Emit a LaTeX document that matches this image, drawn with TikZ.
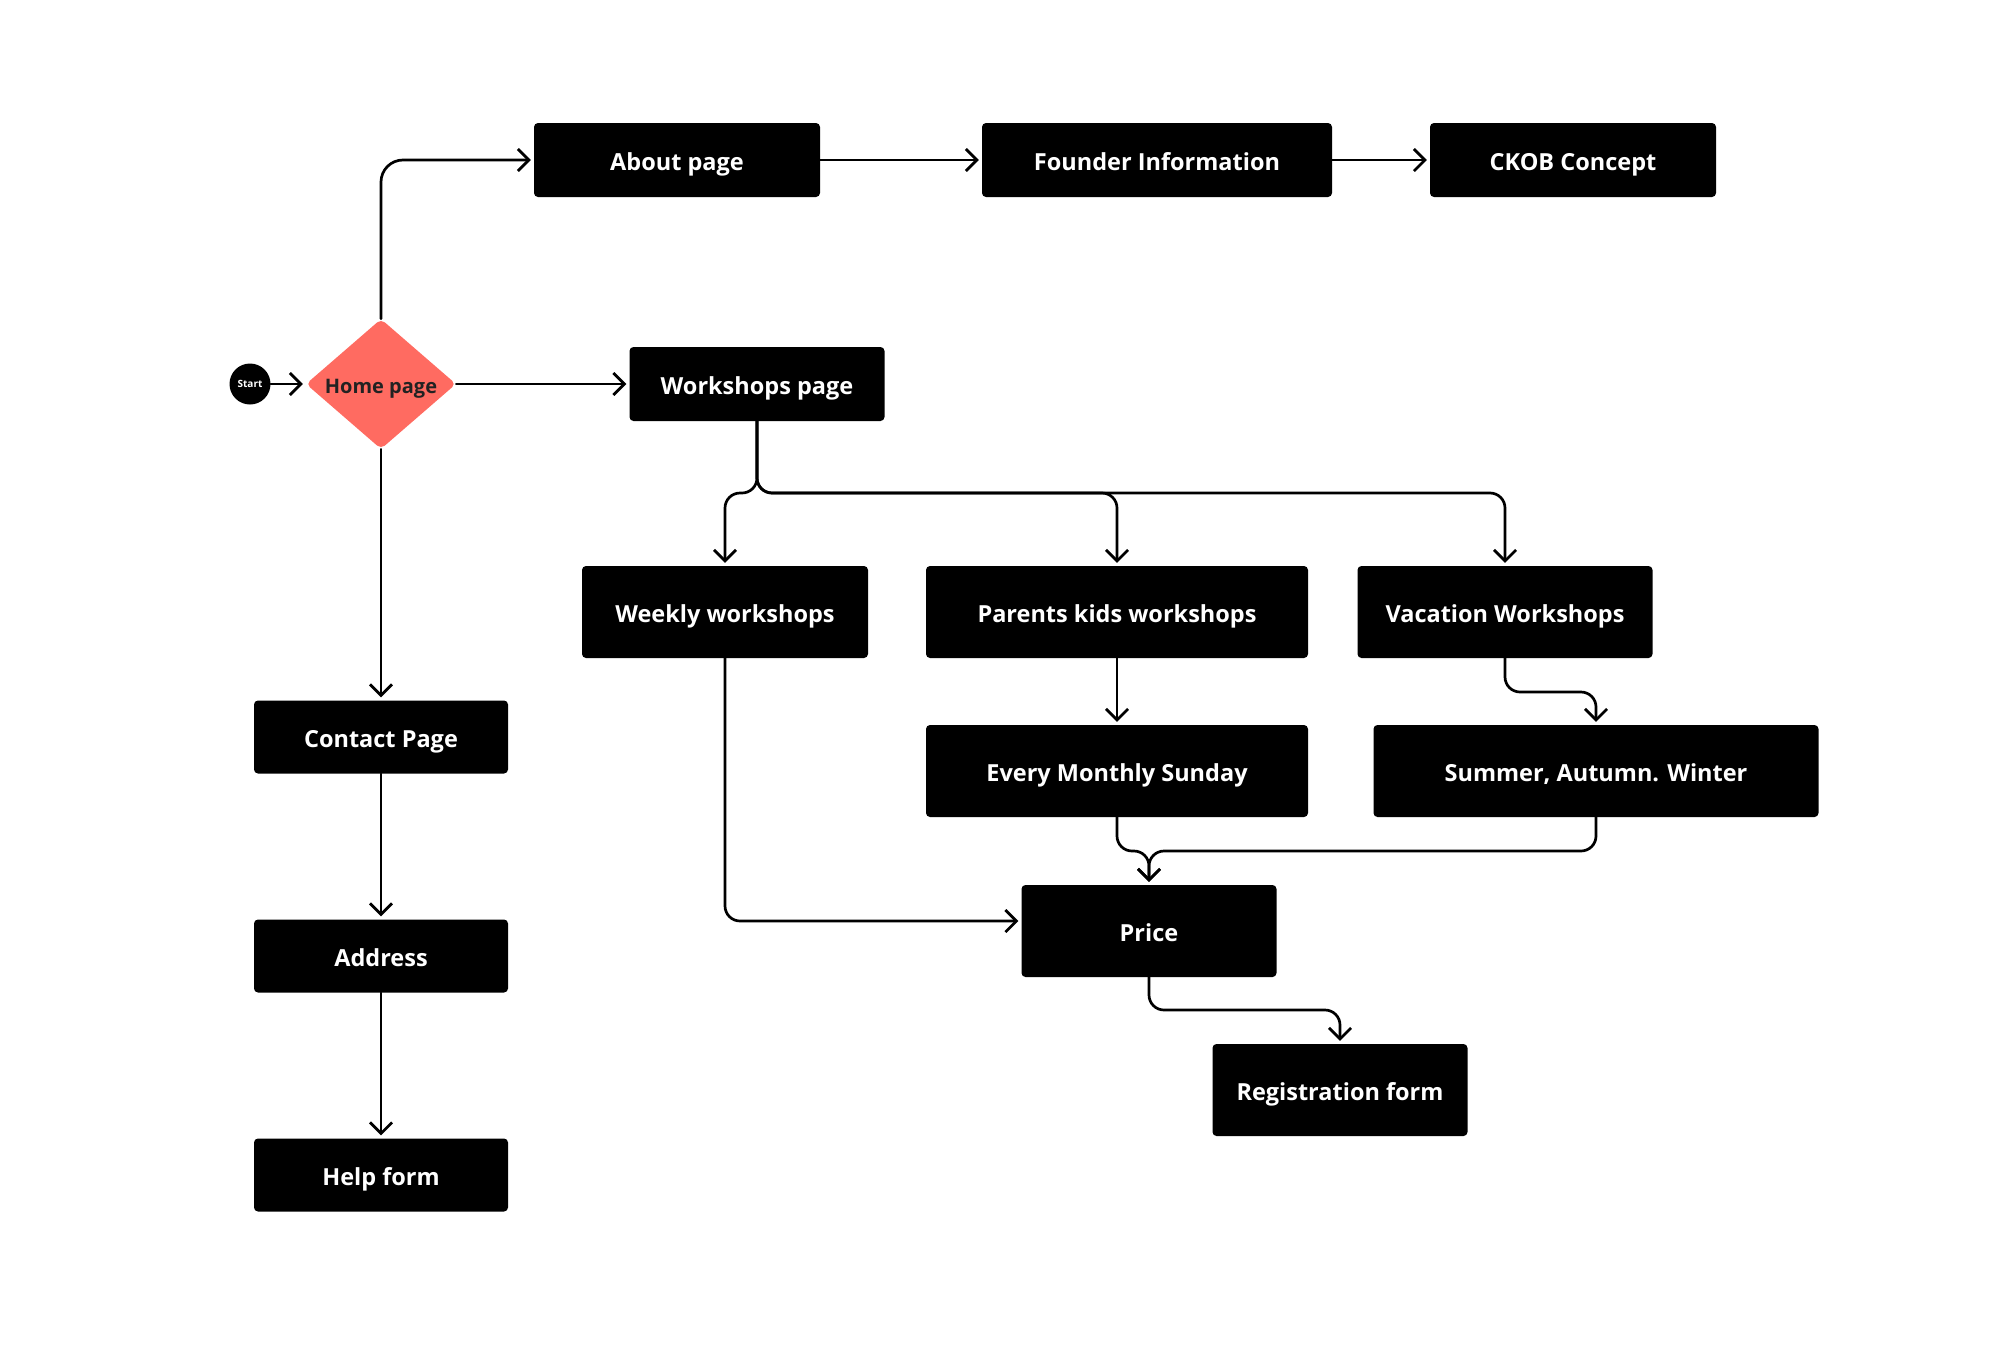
\documentclass[tikz,border=0pt]{standalone}
\usepackage{fontspec}
\setmainfont{Open Sans}
\usetikzlibrary{arrows.meta,shapes.geometric}
\definecolor{coral}{HTML}{FF6B61}
\definecolor{darktext}{HTML}{222222}
\tikzset{
  box/.style={rectangle, fill=black, rounded corners=4pt, text=white, font=\fontsize{23.5}{28}\selectfont\bfseries, inner sep=0pt, text height=20.4pt, text depth=0pt},
  arr/.style={line width=2.7pt, line cap=round, line join=round, -{Straight Barb[length=11pt,width=22pt]}, shorten >=3pt, rounded corners=15pt},
}
\begin{document}
\begin{tikzpicture}[x=1pt,y=-1pt]
\useasboundingbox (0,0) rectangle (2002,1360);
% nodes
\node[circle, fill=black, minimum size=41pt, inner sep=0pt, text=white, font=\fontsize{10}{12}\selectfont\bfseries, text height=7.6pt, text depth=0pt] (start) at (250,384) {Start};
\node[diamond, fill=coral, minimum width=150pt, minimum height=130pt, inner sep=0pt, aspect=1.16, rounded corners=5pt, text=darktext, font=\fontsize{20}{24}\selectfont\bfseries, text height=19pt, text depth=0pt] (home) at (381,384) {Home page};
\node[box, minimum width=286pt, minimum height=74pt] (about) at (677,160) {About page};
\node[box, minimum width=350pt, minimum height=74pt] (founder) at (1157,160) {Founder Information};
\node[box, minimum width=286pt, minimum height=74pt] (ckob) at (1573,160) {CKOB Concept};
\node[box, minimum width=255pt, minimum height=74pt] (ws) at (757,384) {Workshops page};
\node[box, minimum width=286pt, minimum height=92pt] (weekly) at (725,612) {Weekly workshops};
\node[box, minimum width=382pt, minimum height=92pt] (parents) at (1117,612) {Parents kids workshops};
\node[box, minimum width=295pt, minimum height=92pt] (vac) at (1505,612) {Vacation Workshops};
\node[box, minimum width=382pt, minimum height=92pt] (monthly) at (1117,771) {Every Monthly Sunday};
\node[box, minimum width=445pt, minimum height=92pt] (summer) at (1596,771) {Summer, Autumn. Winter};
\node[box, minimum width=255pt, minimum height=92pt] (price) at (1149,931) {Price};
\node[box, minimum width=255pt, minimum height=92pt] (reg) at (1340,1090) {Registration form};
\node[box, minimum width=254pt, minimum height=73pt] (contact) at (381,737) {Contact Page};
\node[box, minimum width=254pt, minimum height=73pt] (address) at (381,956) {Address};
\node[box, minimum width=254pt, minimum height=73pt] (help) at (381,1175) {Help form};
% branch points
\coordinate (wsb) at (757,493);
\coordinate (vacb) at (1505,692);
\coordinate (monb) at (1117,851);
\coordinate (sumb) at (1596,851);
\coordinate (priceb) at (1149,1010);
% connectors
\draw[arr] (start) -- (home);
\draw[arr, rounded corners=22pt] (home.north) |- (about.west);
\draw[arr] (home.east) -- (ws.west);
\draw[arr] (home.south) -- (contact.north);
\draw[arr] (about) -- (founder);
\draw[arr] (founder) -- (ckob);
\draw[arr] (ws.south) -- (wsb) -| (weekly.north);
\draw[arr] (ws.south) -- (wsb) -| (parents.north);
\draw[arr] (ws.south) -- (wsb) -| (vac.north);
\draw[arr] (parents) -- (monthly);
\draw[arr] (vac.south) -- (vacb) -| (summer.north);
\draw[arr] (monthly.south) -- (monb) -| (price.north);
\draw[arr] (summer.south) -- (sumb) -| (price.north);
\draw[arr] (weekly.south) |- ([yshift=10pt]price.west);
\draw[arr] (price.south) -- (priceb) -| (reg.north);
\draw[arr] (contact) -- (address);
\draw[arr] (address) -- (help);
\end{tikzpicture}
\end{document}
